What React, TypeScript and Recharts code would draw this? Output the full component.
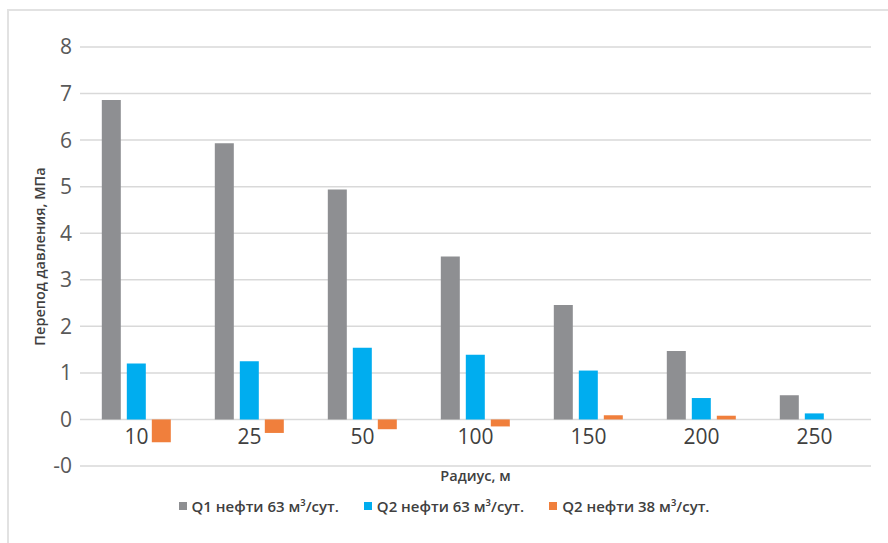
import { BarChart, Bar, XAxis, YAxis, CartesianGrid, Legend } from "recharts";

// радиус, м
const radii = ["10", "25", "50", "100", "150", "200", "250"];
// перепад давления, МПа
const q1Oil63 = [6.86, 5.93, 4.94, 3.5, 2.46, 1.47, 0.52];
const q2Oil63 = [1.2, 1.25, 1.54, 1.39, 1.05, 0.46, 0.13];
const q2Oil38 = [-0.49, -0.29, -0.21, -0.15, 0.09, 0.08, 0];

const yTicks = [-1, 0, 1, 2, 3, 4, 5, 6, 7, 8];
const yTickLabels = ["-0", "0", "1", "2", "3", "4", "5", "6", "7", "8"];

const seriesNames = [
    "Q1 нефти 63 м³/сут.",
    "Q2 нефти 63 м³/сут.",
    "Q2 нефти 38 м³/сут.",
];

const data = radii.map((r, i) => ({
    radius: r,
    q1: q1Oil63[i],
    q2: q2Oil63[i],
    q3: q2Oil38[i],
}));

const FONT = "'Open Sans', 'Noto Sans', sans-serif";

// подписи категорий стоят под нулевой линией, а не под нижней границей
function RadiusTick(props: any) {
    const { x, y, payload } = props;
    return (
        <text x={x} y={y} dy={-30} textAnchor="middle" fill="#404040" fontSize={21} fontFamily={FONT}>
            {payload.value}
        </text>
    );
}

function LegendRow(props: any) {
    // порядок серий как в наборе, без сортировки по имени
    const items = [...props.payload].sort(
        (a: any, b: any) => seriesNames.indexOf(a.value) - seriesNames.indexOf(b.value)
    );
    return (
        <div style={{ display: "flex", justifyContent: "center", gap: 25, fontFamily: FONT }}>
            {items.map((p: any) => (
                <div key={p.value} style={{ display: "flex", alignItems: "center" }}>
                    <span style={{ width: 8, height: 8, background: p.color, marginRight: 5 }} />
                    <span style={{ fontSize: 15, fontWeight: 600, color: "#404040" }}>{p.value}</span>
                </div>
            ))}
        </div>
    );
}

export default function App() {
    return (
        <div style={{ position: "absolute", left: 0, top: 0, width: 888, height: 543, background: "#fff" }}>
            <div
                style={{
                    position: "absolute",
                    left: 7,
                    top: 9,
                    right: 0,
                    bottom: 0,
                    borderTop: "2px solid #e2e2e2",
                    borderLeft: "2px solid #e2e2e2",
                }}
            />
            <BarChart
                width={888}
                height={543}
                data={data}
                margin={{ top: 47, right: 17, left: 0, bottom: 57 }}
                barCategoryGap="19.3%"
                barGap={6}
            >
                <CartesianGrid vertical={false} stroke="#d9d9d9" strokeWidth={1.5} />
                <XAxis
                    dataKey="radius"
                    axisLine={false}
                    tickLine={false}
                    height={20}
                    interval={0}
                    tick={<RadiusTick />}
                    label={{
                        value: "Радиус, м",
                        position: "insideBottom",
                        offset: 5,
                        fill: "#404040",
                        fontSize: 14.5,
                        fontWeight: 600,
                        fontFamily: FONT,
                    }}
                />
                <YAxis
                    width={80}
                    domain={[-1, 8]}
                    ticks={yTicks}
                    interval={0}
                    axisLine={false}
                    tickLine={false}
                    tickFormatter={(v: number) => yTickLabels[yTicks.indexOf(v)]}
                    tick={{ fill: "#595959", fontSize: 21, fontFamily: FONT }}
                    label={{
                        value: "Перепод давления, МПа",
                        angle: -90,
                        position: "center",
                        fill: "#404040",
                        fontSize: 14.5,
                        fontWeight: 600,
                        fontFamily: FONT,
                    }}
                />
                <Legend
                    verticalAlign="middle"
                    content={<LegendRow />}
                    wrapperStyle={{ top: 496, left: 0, width: 888 }}
                />
                <Bar dataKey="q1" name={seriesNames[0]} fill="#8e8f92" isAnimationActive={false} />
                <Bar dataKey="q2" name={seriesNames[1]} fill="#00adef" isAnimationActive={false} />
                <Bar dataKey="q3" name={seriesNames[2]} fill="#f07f3c" isAnimationActive={false} />
            </BarChart>
        </div>
    );
}
